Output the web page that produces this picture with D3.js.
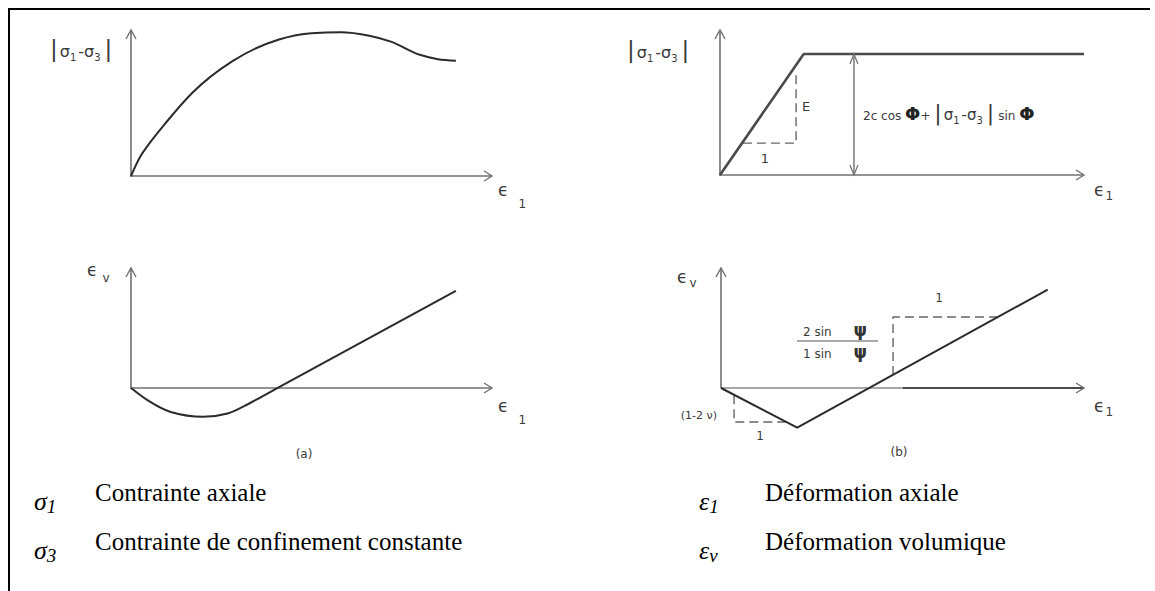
<!DOCTYPE html>
<html>
<head>
<meta charset="utf-8">
<script src="https://cdn.jsdelivr.net/npm/d3@7/dist/d3.min.js"></script>
<style>
body { margin: 0; background: #fff; }
svg text { font-family: "DejaVu Sans", sans-serif; }
</style>
</head>
<body>
<div id="chart"></div>
<script>
// values are in a 0-10 unit system on every axis (schematic)

// (a) top : deviator stress vs axial strain, smooth peak then softening
peakCurveX = [0, 0.25, 0.5, 1.0, 1.7, 2.8, 4.1, 5.0, 5.8, 6.6, 7.2, 8.0, 8.5, 9.0]
peakCurveY = [0, 1.3, 2.2, 3.75, 5.7, 7.85, 9.35, 9.78, 9.84, 9.6, 9.2, 8.3, 8.0, 7.9]

// (a) bottom : volumetric strain, contraction then dilation
volCurveX = [0, 0.5, 1.1, 2.0, 2.7, 3.3, 4.0, 9.0]
volCurveY = [0, -1.1, -2.0, -2.4, -2.1, -1.25, -0.1, 8.1]

// (b) top : elastic perfectly plastic
plasticX = [0, 2.3, 10]
plasticY = [0, 8.35, 8.35]
slopeEX = [0.63, 2.09, 2.09]     // dashed slope triangle "1" / "E"
slopeEY = [2.2, 2.2, 7.2]
yieldArrowX = [3.68, 3.68]
yieldArrowY = [0, 8.35]

// (b) bottom : bilinear volumetric strain
bilinX = [0, 2.1, 9.0]
bilinY = [0, -3.3, 8.2]
smallTriX = [0.36, 0.36, 1.78]   // "(1-2 v)" / "1"
smallTriY = [-0.6, -2.83, -2.83]
bigTriX = [7.63, 4.74, 4.74]     // "1" / "2 sin psi / 1 sin psi"
bigTriY = [5.92, 5.92, 1.09]
axisSplitX = 5.0                 // the e1 axis gets darker from here

// legend
legendSymbols = ["σ", "σ", "ε", "ε"]
legendSubs = ["1", "3", "1", "v"]
legendTexts = ["Contrainte axiale", "Contrainte de confinement constante", "Déformation axiale", "Déformation volumique"]

let svg;
const axisColor = "#707070", curveColor = "#2b2b2b", labelColor = "#3a3a3a";

document.addEventListener('DOMContentLoaded', function () {
    svg = d3.select("#chart").append("svg")
        .attr("width", 1155)
        .attr("height", 591);

    // frame
    svg.append("path")
        .attr("d", "M9,591 L9,9 L1150,9")
        .attr("fill", "none")
        .attr("stroke", "#000")
        .attr("stroke-width", 2);

    createPanelATop();
    createPanelABottom();
    createPanelBTop();
    createPanelBBottom();
    createLegend();
});

function makeScales(ox, oy, xEnd, yEnd) {
    return {
        x: d3.scaleLinear().domain([0, 10]).range([ox, xEnd]),
        y: d3.scaleLinear().domain([0, 10]).range([oy, yEnd])
    };
}

function drawAxes(s) {
    const x0 = s.x(0), y0 = s.y(0), xt = s.x(10), yt = s.y(10);
    svg.append("line").attr("x1", x0).attr("y1", y0).attr("x2", xt).attr("y2", y0)
        .attr("stroke", axisColor).attr("stroke-width", 1.6);
    svg.append("line").attr("x1", x0).attr("y1", y0 + 1).attr("x2", x0).attr("y2", yt)
        .attr("stroke", axisColor).attr("stroke-width", 1.6);
    svg.append("path").attr("d", `M${xt - 8},${y0 - 5} L${xt},${y0} L${xt - 8},${y0 + 5}`)
        .attr("fill", "none").attr("stroke", axisColor).attr("stroke-width", 1.4);
    svg.append("path").attr("d", `M${x0 - 5},${yt + 9} L${x0},${yt} L${x0 + 5},${yt + 9}`)
        .attr("fill", "none").attr("stroke", axisColor).attr("stroke-width", 1.4);
}

function epsLabel(x, y, sub, subDx, subDy) {
    const t = svg.append("text").attr("x", x).attr("y", y)
        .attr("fill", labelColor).style("font-size", "17px");
    t.append("tspan").text("ϵ");
    t.append("tspan").attr("dx", subDx).attr("dy", subDy).style("font-size", "12px").text(sub);
}

function sigmaDiff(t, big) {
    t.append("tspan").style("font-size", big + "px").text("|");
    t.append("tspan").attr("dx", 2).text("σ");
    t.append("tspan").attr("dy", 4).style("font-size", "10px").text("1");
    t.append("tspan").attr("dy", -4).attr("dx", 2).text("-σ");
    t.append("tspan").attr("dy", 4).style("font-size", "10px").text("3");
    t.append("tspan").attr("dy", -4).attr("dx", 4).style("font-size", big + "px").text("|");
}

function createPanelATop() {
    const s = makeScales(131, 176, 492, 30);
    drawAxes(s);

    const line = d3.line().x(d => s.x(d[0])).y(d => s.y(d[1])).curve(d3.curveMonotoneX);
    svg.append("path")
        .datum(d3.zip(peakCurveX, peakCurveY))
        .attr("d", line)
        .attr("fill", "none").attr("stroke", curveColor).attr("stroke-width", 2);

    const t = svg.append("text").attr("x", 50).attr("y", 57)
        .attr("fill", labelColor).style("font-size", "16px");
    sigmaDiff(t, 23);

    epsLabel(498, 196, "1", 10, 12);
}

function createPanelABottom() {
    const s = makeScales(131, 388, 492, 268);
    drawAxes(s);

    const line = d3.line().x(d => s.x(d[0])).y(d => s.y(d[1])).curve(d3.curveMonotoneX);
    svg.append("path")
        .datum(d3.zip(volCurveX, volCurveY))
        .attr("d", line)
        .attr("fill", "none").attr("stroke", curveColor).attr("stroke-width", 2);

    epsLabel(87, 276, "v", 5, 6);
    epsLabel(498, 412, "1", 10, 12);

    svg.append("text").attr("x", 304).attr("y", 458)
        .attr("text-anchor", "middle").attr("fill", labelColor)
        .style("font-size", "12px").text("(a)");
}

function createPanelBTop() {
    const s = makeScales(720, 175, 1084, 30);
    drawAxes(s);

    const line = d3.line().x(d => s.x(d[0])).y(d => s.y(d[1]));
    svg.append("path")
        .datum(d3.zip(slopeEX, slopeEY))
        .attr("d", line)
        .attr("fill", "none").attr("stroke", "#666").attr("stroke-width", 1.4)
        .attr("stroke-dasharray", "9,5");

    svg.append("path")
        .datum(d3.zip(plasticX, plasticY))
        .attr("d", line)
        .attr("fill", "none").attr("stroke", "#4a4a4a").attr("stroke-width", 2.6)
        .attr("stroke-linejoin", "round");

    // double arrow for the yield level
    const ax = s.x(yieldArrowX[0]), ay0 = s.y(yieldArrowY[0]), ay1 = s.y(yieldArrowY[1]);
    svg.append("line").attr("x1", ax).attr("x2", ax).attr("y1", ay0).attr("y2", ay1)
        .attr("stroke", axisColor).attr("stroke-width", 1.4);
    svg.append("path").attr("d", `M${ax - 4},${ay1 + 10} L${ax},${ay1} L${ax + 4},${ay1 + 10}`)
        .attr("fill", "none").attr("stroke", axisColor).attr("stroke-width", 1.2);
    svg.append("path").attr("d", `M${ax - 4},${ay0 - 10} L${ax},${ay0} L${ax + 4},${ay0 - 10}`)
        .attr("fill", "none").attr("stroke", axisColor).attr("stroke-width", 1.2);

    svg.append("text").attr("x", 802).attr("y", 111).attr("fill", labelColor)
        .style("font-size", "13px").text("E");
    svg.append("text").attr("x", 765).attr("y", 163).attr("text-anchor", "middle")
        .attr("fill", labelColor).style("font-size", "13px").text("1");

    const f = svg.append("text").attr("x", 863).attr("y", 120)
        .attr("fill", labelColor).style("font-size", "12px");
    f.append("tspan").text("2c cos ");
    f.append("tspan").style("font-size", "18px").style("font-weight", "bold").attr("fill", "#222").text("Φ");
    f.append("tspan").text("+ ");
    f.append("tspan").style("font-size", "22px").text("|");
    f.append("tspan").attr("dx", 2).style("font-size", "15px").text("σ");
    f.append("tspan").attr("dy", 4).style("font-size", "10px").text("1");
    f.append("tspan").attr("dy", -4).attr("dx", 2).style("font-size", "15px").text("-σ");
    f.append("tspan").attr("dy", 4).style("font-size", "10px").text("3");
    f.append("tspan").attr("dy", -4).attr("dx", 4).style("font-size", "22px").text("|");
    f.append("tspan").attr("dx", 4).text("sin ");
    f.append("tspan").style("font-size", "18px").style("font-weight", "bold").attr("fill", "#222").text("Φ");

    const t = svg.append("text").attr("x", 627).attr("y", 58)
        .attr("fill", labelColor).style("font-size", "16px");
    sigmaDiff(t, 23);

    epsLabel(1094, 196, "1", 1, 4);
}

function createPanelBBottom() {
    const s = makeScales(721, 388, 1084, 268);
    const x0 = s.x(0), y0 = s.y(0), xt = s.x(10), yt = s.y(10);

    // e1 axis: light part then darker part
    svg.append("line").attr("x1", x0).attr("y1", y0).attr("x2", s.x(axisSplitX)).attr("y2", y0)
        .attr("stroke", "#8a8a8a").attr("stroke-width", 1.3);
    svg.append("line").attr("x1", s.x(axisSplitX)).attr("y1", y0).attr("x2", xt).attr("y2", y0)
        .attr("stroke", "#4a4a4a").attr("stroke-width", 2.2);
    svg.append("line").attr("x1", x0).attr("y1", y0).attr("x2", x0).attr("y2", yt)
        .attr("stroke", axisColor).attr("stroke-width", 1.6);
    svg.append("path").attr("d", `M${xt - 8},${y0 - 5} L${xt},${y0} L${xt - 8},${y0 + 5}`)
        .attr("fill", "none").attr("stroke", axisColor).attr("stroke-width", 1.4);
    svg.append("path").attr("d", `M${x0 - 5},${yt + 9} L${x0},${yt} L${x0 + 5},${yt + 9}`)
        .attr("fill", "none").attr("stroke", axisColor).attr("stroke-width", 1.4);

    const line = d3.line().x(d => s.x(d[0])).y(d => s.y(d[1]));
    [d3.zip(smallTriX, smallTriY), d3.zip(bigTriX, bigTriY)].forEach(function (pts) {
        svg.append("path").datum(pts).attr("d", line)
            .attr("fill", "none").attr("stroke", "#666").attr("stroke-width", 1.4)
            .attr("stroke-dasharray", "9,5");
    });

    svg.append("path")
        .datum(d3.zip(bilinX, bilinY))
        .attr("d", line)
        .attr("fill", "none").attr("stroke", curveColor).attr("stroke-width", 2)
        .attr("stroke-linejoin", "round");

    epsLabel(677, 283, "v", 2, 4);
    epsLabel(1094, 412, "1", 1, 4);

    svg.append("text").attr("x", 717).attr("y", 419).attr("text-anchor", "end")
        .attr("fill", labelColor).style("font-size", "11px").text("(1-2 ν)");
    svg.append("text").attr("x", 760).attr("y", 440).attr("text-anchor", "middle")
        .attr("fill", labelColor).style("font-size", "12px").text("1");
    svg.append("text").attr("x", 939).attr("y", 302).attr("text-anchor", "middle")
        .attr("fill", labelColor).style("font-size", "12px").text("1");

    // fraction 2 sin psi / 1 sin psi
    svg.append("line").attr("x1", 797).attr("x2", 878).attr("y1", 341).attr("y2", 341)
        .attr("stroke", "#555").attr("stroke-width", 1.2);
    [["2 sin ", 336], ["1 sin ", 358]].forEach(function (p) {
        const t = svg.append("text").attr("x", 803).attr("y", p[1])
            .attr("fill", labelColor).style("font-size", "12px");
        t.append("tspan").text(p[0]);
        t.append("tspan").attr("dx", 18).style("font-size", "17px").style("font-weight", "bold")
            .attr("fill", "#333").text("ψ");
    });

    svg.append("text").attr("x", 899).attr("y", 456)
        .attr("text-anchor", "middle").attr("fill", labelColor)
        .style("font-size", "12px").text("(b)");
}

function createLegend() {
    const symX = [34, 34, 699, 699];
    const textX = [95, 95, 765, 765];
    const rowY = [501, 550, 501, 550];

    legendTexts.forEach(function (txt, i) {
        const sym = svg.append("text").attr("x", symX[i]).attr("y", rowY[i] + 9)
            .style("font-family", "'Liberation Serif', serif").style("font-style", "italic")
            .style("font-size", "26px").attr("fill", "#000");
        sym.append("tspan").text(legendSymbols[i]);
        sym.append("tspan").attr("dy", 3).style("font-size", "19px").text(legendSubs[i]);

        svg.append("text").attr("x", textX[i]).attr("y", rowY[i])
            .style("font-family", "'Liberation Serif', serif")
            .style("font-size", "25px").attr("fill", "#000")
            .text(txt);
    });
}
</script>
</body>
</html>
